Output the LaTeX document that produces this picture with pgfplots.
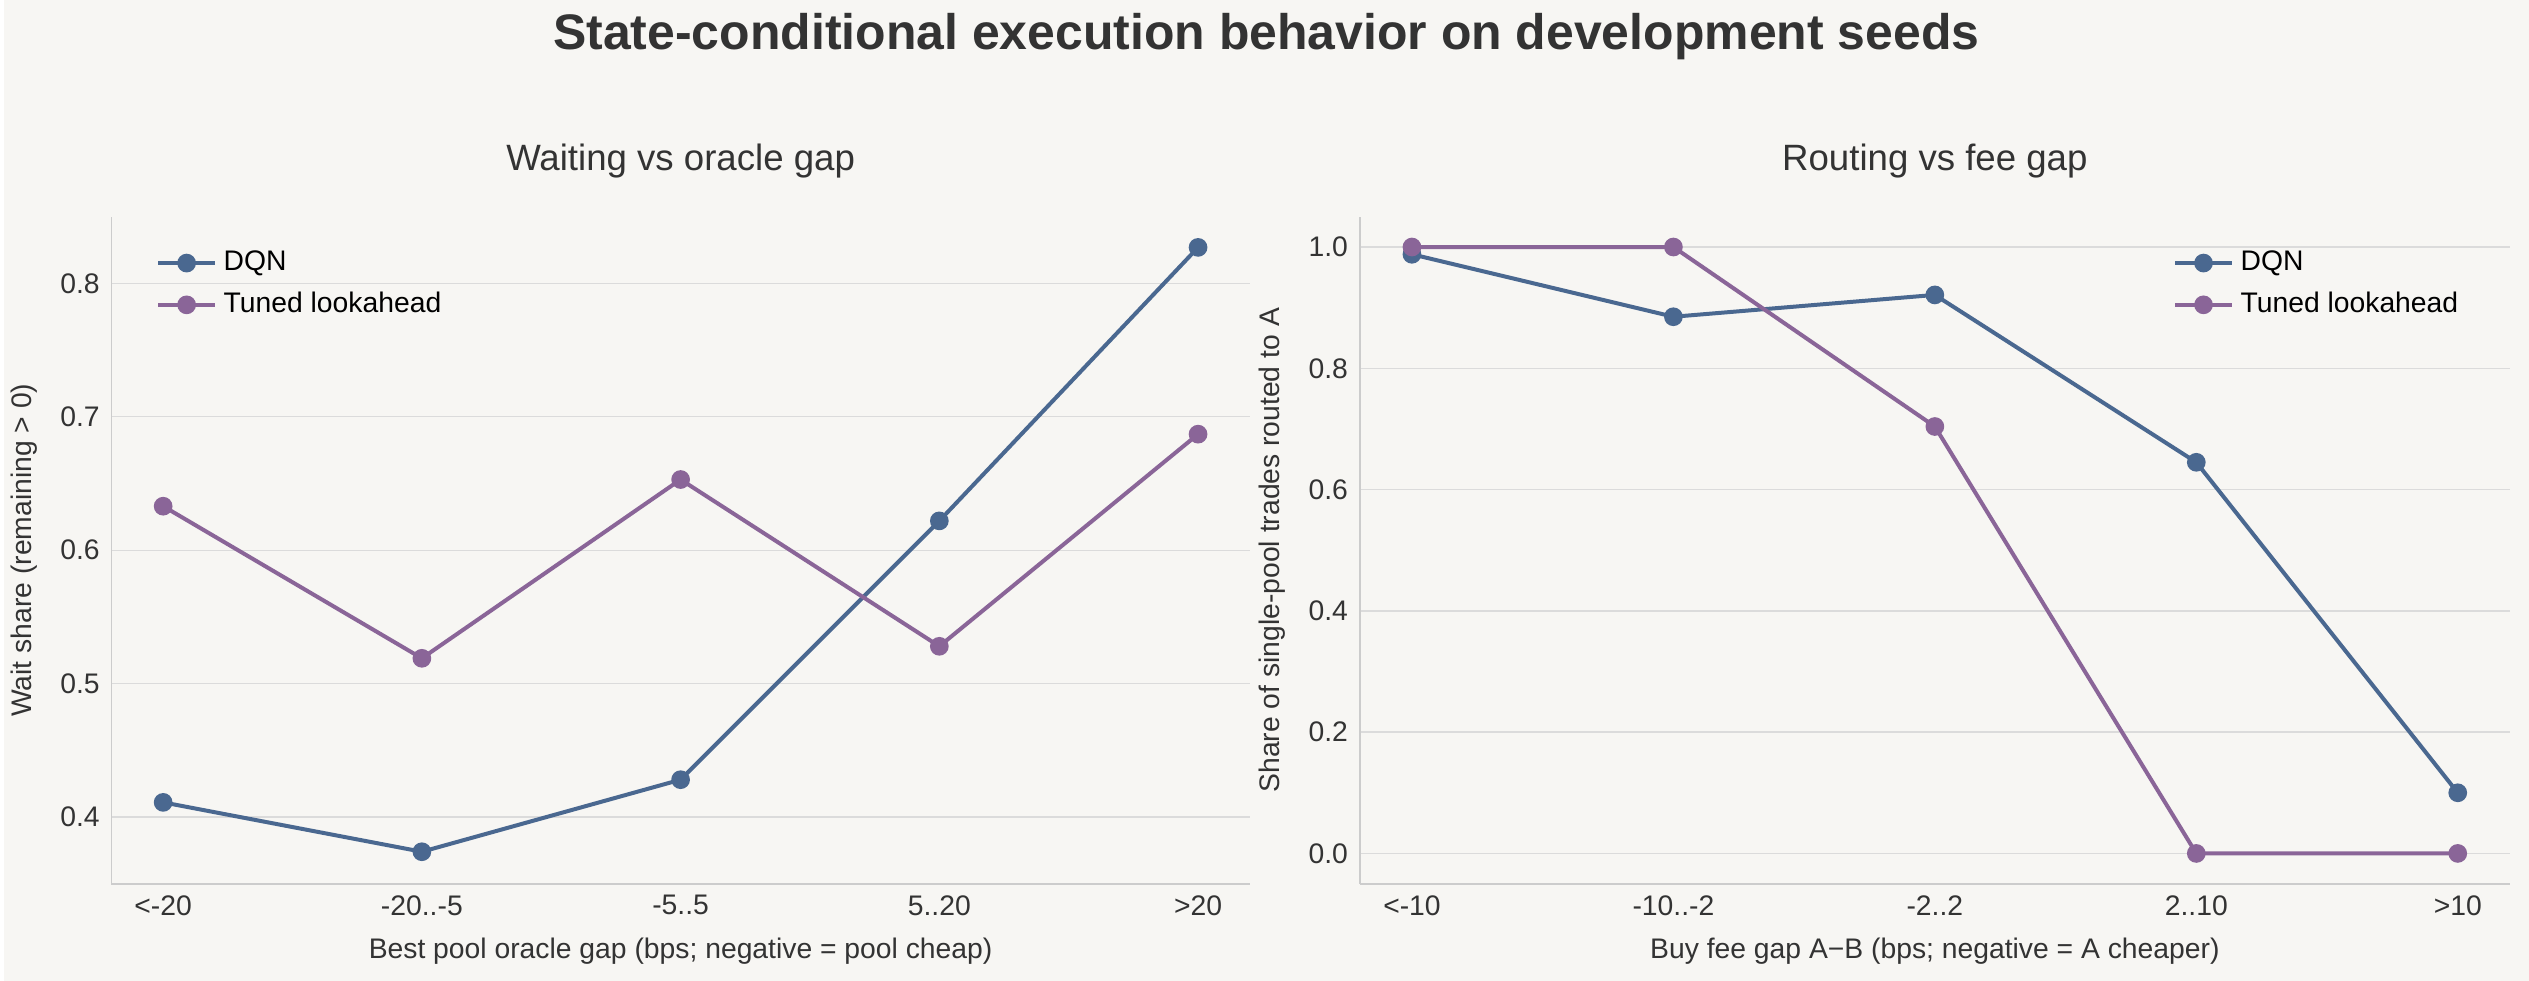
\documentclass[border=0pt]{standalone}
\usepackage{pgfplots}
\pgfplotsset{compat=1.18}
\usepackage{fontspec}
\setmainfont{Liberation Sans}
\definecolor{bg}{HTML}{F7F6F3}
\definecolor{dqn}{HTML}{4A6890}
\definecolor{tun}{HTML}{8A6598}
\definecolor{spine}{HTML}{CCCCCC}
\definecolor{txt}{HTML}{333333}
\pgfplotsset{
  common/.style={
    scale only axis, anchor=south west,
    height=200.4pt,
    axis lines*=left,
    axis line style={spine, line width=0.5pt, -},
    tick style={draw=none},
    ymajorgrids, grid style={spine!70, line width=0.4pt},
    xmin=-0.2, xmax=4.2, xtick={0,1,2,3,4},
    tick label style={font=\fontsize{8.5}{10}\selectfont, text=txt},
    label style={font=\fontsize{8.5}{10}\selectfont, text=txt},
    title style={font=\fontsize{11}{13}\selectfont, text=txt, yshift=2pt},
    /pgf/number format/assume math mode=true,
    /pgf/number format/fixed, /pgf/number format/fixed zerofill, /pgf/number format/precision=1,
    legend style={draw=none, fill=none, font=\fontsize{8.5}{10}\selectfont, row sep=1pt},
    legend cell align=left,
    every axis plot/.append style={line width=1.2pt, mark=*, mark size=2.2pt},
  }
}
\begin{document}
\begin{tikzpicture}
\path[fill=bg] (0,0) rectangle (758.7pt,294.6pt);
\node[font=\fontsize{15}{18}\selectfont\bfseries, text=txt] at (379.35pt,283.5pt) {State-conditional execution behavior on development seeds};
\begin{axis}[common, at={(32.4pt,29.1pt)}, width=342pt,
  ymin=0.35, ymax=0.85, ytick={0.4,0.5,0.6,0.7,0.8},
  xticklabels={<-20,-20..-5,-5..5,5..20,>20},
  title={Waiting vs oracle gap},
  xlabel={Best pool oracle gap (bps; negative = pool cheap)},
  ylabel={Wait share (remaining > 0)},
  legend pos=north west]
\addplot[dqn, mark options={fill=dqn}] coordinates {(0,0.411)(1,0.374)(2,0.428)(3,0.622)(4,0.827)};
\addplot[tun, mark options={fill=tun}] coordinates {(0,0.633)(1,0.519)(2,0.653)(3,0.528)(4,0.687)};
\legend{DQN,Tuned lookahead}
\end{axis}
\begin{axis}[common, at={(407.4pt,29.1pt)}, width=345.6pt,
  ymin=-0.05, ymax=1.05, ytick={0,0.2,0.4,0.6,0.8,1.0},
  xticklabels={<-10,-10..-2,-2..2,2..10,>10},
  title={Routing vs fee gap},
  xlabel={Buy fee gap A−B (bps; negative = A cheaper)},
  ylabel={Share of single-pool trades routed to A},
  legend pos=north east]
\addplot[dqn, mark options={fill=dqn}] coordinates {(0,0.988)(1,0.885)(2,0.921)(3,0.645)(4,0.10)};
\addplot[tun, mark options={fill=tun}] coordinates {(0,1.0)(1,1.0)(2,0.704)(3,0.0)(4,0.0)};
\legend{DQN,Tuned lookahead}
\end{axis}
\end{tikzpicture}
\end{document}
